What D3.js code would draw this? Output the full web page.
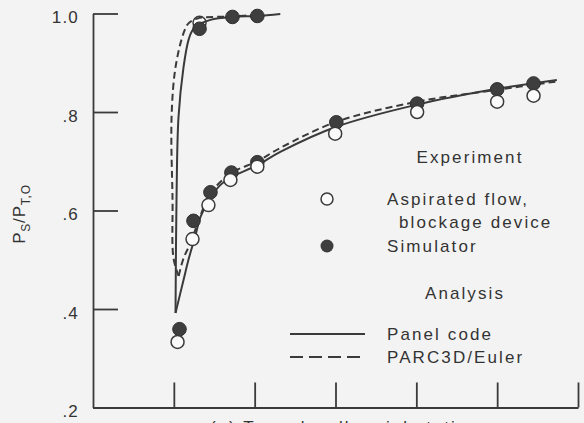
<!DOCTYPE html>
<html>
<head>
<meta charset="utf-8">
<script src="https://cdn.jsdelivr.net/npm/d3@7"></script>
<style>
  html, body { margin: 0; padding: 0; background: #f3f3f3; }
  svg { display: block; }
  text { font-family: "Liberation Sans", Arial, Helvetica, sans-serif; fill: #333; }
</style>
</head>
<body>
<svg id="chart" width="584" height="423"></svg>
<script>
// ---- data ----
const yTicks = [0.2, 0.4, 0.6, 0.8, 1.0];
const xTicks = [1, 2, 3, 4, 5, 6];

const openX = [1.046, 1.231, 1.428, 1.70, 2.033, 2.996, 4.01, 5.0, 5.45];
const openY = [0.333, 0.542, 0.611, 0.662, 0.689, 0.756, 0.800, 0.821, 0.833];
const openUpperX = [1.318];
const openUpperY = [0.981];

const filledX = [1.07, 1.243, 1.453, 1.712, 2.033, 3.01, 4.01, 5.0, 5.45, 1.318, 1.725, 2.033];
const filledY = [0.359, 0.579, 0.637, 0.677, 0.698, 0.779, 0.817, 0.846, 0.858, 0.969, 0.993, 0.995];

const panelUpperX = [1.021, 1.033, 1.058, 1.12, 1.181, 1.231, 1.293, 1.453, 1.725, 2.033, 2.317];
const panelUpperY = [0.392, 0.621, 0.790, 0.891, 0.946, 0.966, 0.976, 0.987, 0.993, 0.995, 0.999];

const panelLowerX = [1.021, 1.12, 1.181, 1.268, 1.33, 1.453, 1.577, 1.712, 2.033, 2.317, 3.01, 4.01, 5.0, 5.738];
const panelLowerY = [0.392, 0.459, 0.500, 0.550, 0.587, 0.627, 0.652, 0.668, 0.692, 0.719, 0.770, 0.815, 0.847, 0.865];

const parcUpperX = [1.06, 0.996, 0.984, 0.972, 1.021, 1.12, 1.181, 1.293, 1.725, 2.095];
const parcUpperY = [0.467, 0.503, 0.621, 0.790, 0.891, 0.960, 0.980, 0.990, 0.994, 0.998];

const parcLowerX = [1.06, 1.12, 1.206, 1.33, 1.453, 1.712, 2.033, 2.317, 3.01, 4.01, 5.0, 5.738];
const parcLowerY = [0.467, 0.503, 0.534, 0.590, 0.635, 0.676, 0.700, 0.727, 0.780, 0.821, 0.845, 0.862];

// ---- chart ----
const svg = d3.select("#chart");
const ink = "#3a3a3a";

const x = d3.scaleLinear().domain([0, 6]).range([93, 578]);
const y = d3.scaleLinear().domain([0.2, 1.0]).range([407.5, 13.5]);

// axes
const yAxis = d3.axisLeft(y).tickValues(yTicks).tickSizeInner(-25).tickSizeOuter(0).tickPadding(14)
  .tickFormat(d => d === 1 ? "1.0" : d3.format(".1f")(d).replace(/^0/, ""));
const gy = svg.append("g").attr("transform", `translate(${x(0)},0)`).call(yAxis);
gy.selectAll("path, line").attr("stroke", ink).attr("stroke-width", 1.8);
gy.selectAll("text").attr("font-size", 17).attr("letter-spacing", 1.2).attr("fill", "#333")
  .attr("dy", "0.55em").attr("font-family", "'Liberation Sans', Arial, sans-serif");

const xAxis = d3.axisBottom(x).tickValues(xTicks).tickSizeInner(-25).tickSizeOuter(0).tickFormat("");
const gx = svg.append("g").attr("transform", `translate(0,${y(0.2)})`).call(xAxis);
gx.selectAll("path, line").attr("stroke", ink).attr("stroke-width", 1.8);

// y label
const yl = svg.append("text").attr("transform", "translate(25,214) rotate(-90)")
  .attr("text-anchor", "middle").attr("font-size", 17).attr("letter-spacing", 0.8);
yl.append("tspan").text("P");
yl.append("tspan").attr("font-size", 12).attr("dy", 5).text("S");
yl.append("tspan").attr("dy", -5).text("/P");
yl.append("tspan").attr("font-size", 12).attr("dy", 5).text("T,O");

// x label (the reference shows only its top edge at the bottom of the frame)
svg.append("text").attr("x", 210).attr("y", 433).attr("font-size", 17).attr("letter-spacing", 2)
  .text("(a) Tunnel wall, axial station");

const zip = (a, b) => a.map((v, i) => [v, b[i]]);

// open upper point sits behind its filled partner
svg.append("g").selectAll("circle").data(zip(openUpperX, openUpperY)).join("circle")
  .attr("cx", d => x(d[0])).attr("cy", d => y(d[1])).attr("r", 6.5)
  .attr("fill", "#fafafa").attr("stroke", ink).attr("stroke-width", 1.5);

// curves
const line = d3.line().x(d => x(d[0])).y(d => y(d[1])).curve(d3.curveCatmullRom.alpha(0.5));
function drawCurve(xs, ys, dashed) {
  svg.append("path").datum(zip(xs, ys)).attr("d", line)
    .attr("fill", "none").attr("stroke", ink).attr("stroke-width", 2)
    .attr("stroke-dasharray", dashed ? "7,4" : null);
}
drawCurve(panelUpperX, panelUpperY, false);
drawCurve(panelLowerX, panelLowerY, false);
drawCurve(parcUpperX, parcUpperY, true);
drawCurve(parcLowerX, parcLowerY, true);

// markers
svg.append("g").selectAll("circle").data(zip(filledX, filledY)).join("circle")
  .attr("cx", d => x(d[0])).attr("cy", d => y(d[1])).attr("r", 6.8)
  .attr("fill", "#3e3e3e").attr("stroke", "#2e2e2e").attr("stroke-width", 1);
svg.append("g").selectAll("circle").data(zip(openX, openY)).join("circle")
  .attr("cx", d => x(d[0])).attr("cy", d => y(d[1])).attr("r", 6.5)
  .attr("fill", "#fafafa").attr("stroke", ink).attr("stroke-width", 1.5);

// legend
const lg = svg.append("g").attr("font-size", 17).attr("letter-spacing", 2.1);
lg.append("text").attr("x", 470).attr("y", 163).attr("text-anchor", "middle").text("Experiment");
lg.append("circle").attr("cx", 327).attr("cy", 199).attr("r", 6).attr("fill", "#fafafa").attr("stroke", ink).attr("stroke-width", 1.5);
lg.append("text").attr("x", 387).attr("y", 205).text("Aspirated flow,");
lg.append("text").attr("x", 399).attr("y", 228).text("blockage device");
lg.append("circle").attr("cx", 327).attr("cy", 246).attr("r", 6.5).attr("fill", "#3e3e3e");
lg.append("text").attr("x", 387).attr("y", 252).text("Simulator");
lg.append("text").attr("x", 465).attr("y", 299).attr("text-anchor", "middle").text("Analysis");
lg.append("line").attr("x1", 290).attr("x2", 365).attr("y1", 334).attr("y2", 334).attr("stroke", ink).attr("stroke-width", 2);
lg.append("text").attr("x", 387).attr("y", 340).text("Panel code");
lg.append("line").attr("x1", 290).attr("x2", 365).attr("y1", 357).attr("y2", 357).attr("stroke", ink).attr("stroke-width", 2).attr("stroke-dasharray", "13,6");
lg.append("text").attr("x", 387).attr("y", 363).text("PARC3D/Euler");
</script>
</body>
</html>
